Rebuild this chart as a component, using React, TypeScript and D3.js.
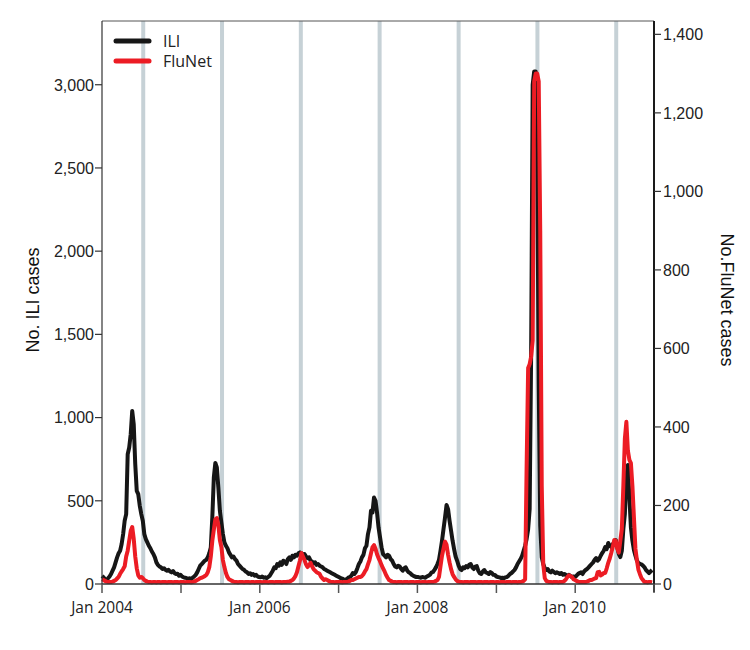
import React from "react";
import { scaleTime, scaleLinear, line, timeDay, format } from "d3";

// weekly counts, first week starting 1 Jan 2004
const startDate = new Date(2004, 0, 1);

const iliCases = [
  // 2004
  48, 40, 30, 28, 34, 45, 60, 80, 100, 130, 160, 185, 200, 240, 300, 380, 420, 780, 820, 900,
  1040, 960, 720, 560, 540, 470, 420, 380, 300, 270, 250, 230, 215, 195, 180, 160, 130, 115, 105, 100,
  90, 95, 85, 80, 85, 75, 70, 78, 65, 60, 62, 50, 55,
  // 2005
  45, 40, 38, 35, 30, 35, 30, 38, 45, 55, 70, 90, 110, 120, 130, 140, 145, 160, 185, 220,
  400, 640, 727, 700, 580, 440, 370, 300, 250, 230, 215, 190, 175, 160, 165, 150, 140, 120, 110, 100,
  90, 85, 75, 70, 60, 65, 55, 60, 50, 55, 45, 42,
  // 2006
  40, 45, 38, 40, 35, 42, 50, 65, 80, 100, 95, 120, 110, 130, 115, 140, 135, 120, 150, 160,
  145, 170, 160, 175, 170, 185, 190, 185, 175, 180, 165, 155, 160, 140, 135, 125, 130, 115, 120, 110,
  105, 100, 90, 85, 80, 75, 70, 65, 60, 55, 50, 45,
  // 2007
  40, 35, 32, 28, 25, 30, 38, 42, 50, 66, 60, 72, 95, 120, 135, 160, 175, 215, 230, 300,
  340, 440, 430, 520, 500, 430, 340, 280, 220, 180, 170, 160, 175, 170, 150, 140, 120, 105, 100, 110,
  105, 90, 80, 95, 100, 80, 70, 65, 55, 50, 45, 42,
  // 2008
  42, 40, 38, 42, 40, 38, 45, 50, 55, 68, 72, 85, 100, 120, 145, 200, 260, 330, 400, 475,
  450, 380, 320, 260, 210, 165, 140, 110, 90, 84, 100, 95, 108, 100, 115, 120, 100, 90, 105, 108,
  80, 65, 60, 75, 84, 70, 66, 60, 72, 65, 55, 54,
  // 2009
  45, 42, 40, 36, 38, 35, 40, 42, 50, 60, 66, 75, 85, 100, 120, 135, 150, 170, 200, 230,
  270, 330, 450, 1400, 3000, 3080, 3080, 2600, 1200, 350, 160, 120, 95, 84, 90, 75, 70, 80, 72, 65,
  70, 66, 60, 66, 55, 60, 54, 50, 55, 48, 42, 45,
  // 2010
  42, 50, 60, 66, 70, 60, 75, 84, 90, 100, 110, 120, 130, 145, 156, 140, 150, 170, 186, 200,
  222, 210, 246, 230, 222, 240, 250, 264, 220, 180, 162, 200, 330, 420, 650, 715, 520, 340, 260, 205,
  170, 140, 126, 120, 118, 110, 100, 84, 75, 66, 75, 84,
];

const fluNetCases = [
  // 2004
  12, 10, 8, 6, 5, 5, 5, 6, 8, 10, 14, 18, 26, 32, 38, 45, 70, 85, 110, 135,
  145, 115, 70, 40, 22, 16, 18, 15, 10, 8, 6, 5, 5, 4, 5, 5, 4, 5, 5, 4,
  5, 5, 5, 4, 5, 5, 5, 4, 5, 5, 5, 4, 5,
  // 2005
  5, 5, 4, 5, 5, 5, 4, 5, 6, 8, 10, 12, 15, 16, 18, 20, 23, 30, 43, 70,
  110, 138, 165, 168, 150, 112, 94, 61, 43, 28, 18, 12, 10, 8, 6, 5, 5, 4, 5, 5,
  5, 4, 5, 5, 5, 4, 5, 5, 4, 5, 5, 5,
  // 2006
  5, 4, 5, 5, 5, 4, 5, 5, 5, 4, 5, 5, 5, 5, 4, 5, 5, 5, 6, 6,
  8, 10, 14, 20, 30, 45, 60, 79, 70, 61, 50, 43, 48, 54, 45, 38, 34, 30, 28, 26,
  18, 14, 10, 12, 10, 8, 6, 5, 5, 4, 5, 5,
  // 2007
  5, 5, 4, 5, 5, 5, 6, 8, 10, 10, 12, 14, 16, 18, 18, 20, 25, 32, 38, 50,
  61, 78, 94, 99, 90, 76, 66, 58, 48, 40, 32, 23, 16, 10, 8, 6, 5, 5, 4, 5,
  5, 5, 4, 5, 5, 5, 4, 5, 5, 5, 4, 5,
  // 2008
  5, 5, 4, 5, 5, 5, 4, 5, 5, 5, 5, 6, 8, 10, 18, 45, 72, 90, 108, 100,
  75, 55, 38, 25, 18, 12, 8, 6, 5, 5, 4, 5, 5, 5, 4, 5, 5, 5, 5, 4,
  5, 5, 5, 4, 5, 5, 5, 4, 5, 5, 5, 4,
  // 2009
  5, 5, 4, 5, 5, 5, 4, 5, 5, 5, 4, 5, 5, 5, 4, 5, 5, 6, 8, 12,
  300, 550, 560, 580, 620, 1280, 1300, 1300, 1280, 900, 250, 50, 15, 8, 6, 5, 5, 4, 5, 5,
  5, 4, 5, 5, 5, 8, 12, 18, 22, 20, 18, 12,
  // 2010
  10, 8, 6, 5, 5, 5, 5, 5, 6, 8, 10, 10, 12, 14, 15, 30, 31, 22, 24, 28,
  28, 40, 54, 65, 79, 95, 112, 110, 90, 80, 110, 140, 250, 370, 413, 340, 316, 308, 250, 170,
  90, 60, 36, 25, 15, 10, 5, 5, 4, 5, 5, 4,
];

const iliTicks = [0, 500, 1000, 1500, 2000, 2500, 3000];
const fluNetTicks = [0, 200, 400, 600, 800, 1000, 1200, 1400];
const yearTicks = [2004, 2005, 2006, 2007, 2008, 2009, 2010, 2011];
const labelledYears = [2004, 2006, 2008, 2010];
const seasonMarks = [2004, 2005, 2006, 2007, 2008, 2009, 2010];

const App = () => {
  const width = 750;
  const height = 650;
  const margin = { top: 21, right: 96, bottom: 66, left: 102 };
  const innerWidth = width - margin.left - margin.right;
  const innerHeight = height - margin.top - margin.bottom;

  const weeks = iliCases.map((_, i) => timeDay.offset(startDate, 7 * i));

  const xScale = scaleTime()
    .domain([new Date(2004, 0, 1), new Date(2011, 0, 1)])
    .range([0, innerWidth]);

  const yIli = scaleLinear().domain([0, 3383]).range([innerHeight, 0]);
  const yFlu = scaleLinear().domain([0, 1434]).range([innerHeight, 0]);

  const iliLine = line<number>()
    .x((_, i) => xScale(weeks[i]))
    .y(d => yIli(d));
  const fluLine = line<number>()
    .x((_, i) => xScale(weeks[i]))
    .y(d => yFlu(d));

  const fmt = format(",");
  const tickFont = "'Liberation Sans', Arial, sans-serif";
  const dateFont = "'Open Sans', sans-serif";

  return (
    <svg width={width} height={height} style={{ position: "absolute", left: 0, top: 0, background: "#fff" }}>
      <g transform={`translate(${margin.left}, ${margin.top})`}>
        {/* season markers */}
        {seasonMarks.map(y => (
          <line key={y}
            x1={xScale(new Date(y, 6, 10))} x2={xScale(new Date(y, 6, 10))}
            y1={0} y2={innerHeight}
            stroke="#c6d1d6" strokeWidth={4} />
        ))}

        {/* frame */}
        <line x1={0} x2={innerWidth} y1={0} y2={0} stroke="#555" strokeWidth={1} />

        {/* series */}
        <path d={iliLine(iliCases) || ""} fill="none" stroke="#161616" strokeWidth={4} strokeLinejoin="round" />
        <path d={fluLine(fluNetCases) || ""} fill="none" stroke="#ec1c24" strokeWidth={4} strokeLinejoin="round" />

        {/* left axis */}
        <line x1={0} x2={0} y1={0} y2={innerHeight} stroke="#333" strokeWidth={1.2} />
        {iliTicks.map(t => (
          <g key={t} transform={`translate(0, ${yIli(t)})`}>
            <line x1={-7} x2={0} stroke="#333" strokeWidth={1.2} />
            <text x={-8} dy="0.36em" textAnchor="end" fontSize={16} fontFamily={tickFont} fill="#222">{fmt(t)}</text>
          </g>
        ))}

        {/* right axis */}
        <line x1={innerWidth} x2={innerWidth} y1={0} y2={innerHeight + 8} stroke="#1a1a1a" strokeWidth={2} />
        {fluNetTicks.map(t => (
          <g key={t} transform={`translate(${innerWidth}, ${yFlu(t)})`}>
            <line x1={0} x2={7} stroke="#333" strokeWidth={1.2} />
            <text x={9} dy="0.36em" textAnchor="start" fontSize={16} fontFamily={tickFont} fill="#222">{fmt(t)}</text>
          </g>
        ))}

        {/* bottom axis */}
        <line x1={0} x2={innerWidth} y1={innerHeight} y2={innerHeight} stroke="#333" strokeWidth={1.5} />
        {yearTicks.map(y => (
          <g key={y} transform={`translate(${xScale(new Date(y, 0, 1))}, ${innerHeight})`}>
            <line y1={0} y2={9} stroke="#555" strokeWidth={1.5} />
            {labelledYears.includes(y) && (
              <text y={29} textAnchor="middle" fontSize={15.5} fontFamily={dateFont} fill="#222">{`Jan ${y}`}</text>
            )}
          </g>
        ))}

        {/* legend */}
        <g transform="translate(14, 20)">
          <line x1={0} x2={33} y1={0} y2={0} stroke="#161616" strokeWidth={5} strokeLinecap="round" />
          <text x={47} dy="0.36em" fontSize={16} fontFamily={dateFont} fill="#222">ILI</text>
          <line x1={0} x2={33} y1={20} y2={20} stroke="#ec1c24" strokeWidth={5} strokeLinecap="round" />
          <text x={47} y={20} dy="0.36em" fontSize={16} fontFamily={dateFont} fill="#222">FluNet</text>
        </g>
      </g>

      {/* axis titles */}
      <text transform="translate(39, 300) rotate(-90)" textAnchor="middle" fontSize={18} fontFamily={tickFont} fill="#111">No. ILI cases</text>
      <text transform="translate(721, 300) rotate(90)" textAnchor="middle" fontSize={18} fontFamily={tickFont} fill="#111">No.FluNet cases</text>
    </svg>
  );
};

export default App;
